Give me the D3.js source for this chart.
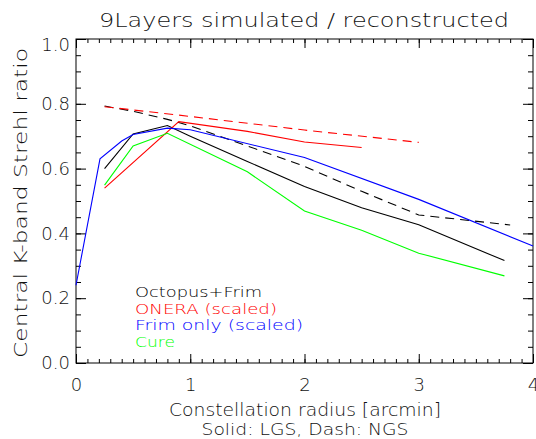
<!DOCTYPE html>
<html>
<head>
<meta charset="utf-8">
<script src="https://cdn.jsdelivr.net/npm/d3@7"></script>
<style>
  html, body { margin: 0; padding: 0; background: #fff; }
  svg { display: block; }
  text { font-family: "DejaVu Sans", sans-serif; font-weight: 200; fill: #111; }
</style>
</head>
<body>
<svg id="chart" width="536" height="439"></svg>
<script>
// Constellation radius values (arcmin) and Strehl ratios per reconstructor
const octopusX = [0.25, 0.5, 0.8, 1.0, 1.5, 2.0, 2.5, 3.0, 3.75];
const octopusLGS = [0.600, 0.707, 0.733, 0.700, 0.622, 0.545, 0.479, 0.427, 0.316];
const octopusNgsX = [0.25, 0.5, 0.8, 1.0, 1.5, 2.0, 2.5, 3.0, 3.8];
const octopusNGS = [0.793, 0.777, 0.752, 0.732, 0.670, 0.607, 0.530, 0.457, 0.426];

const oneraX = [0.25, 0.9, 1.5, 2.0, 2.5];
const oneraLGS = [0.540, 0.745, 0.715, 0.682, 0.665];
const oneraNgsX = [0.25, 1.0, 2.0, 3.0];
const oneraNGS = [0.791, 0.761, 0.719, 0.681];

const frimX = [0.0, 0.21, 0.4, 0.5, 0.8, 1.0, 2.0, 3.0, 4.0];
const frimLGS = [0.240, 0.630, 0.685, 0.705, 0.725, 0.720, 0.634, 0.505, 0.361];

const cureX = [0.25, 0.5, 0.8, 1.5, 2.0, 2.5, 3.0, 3.75];
const cureLGS = [0.549, 0.670, 0.709, 0.590, 0.469, 0.410, 0.339, 0.269];

const xMajorTicks = [0, 1, 2, 3, 4];
const xTickLabels = ["0", "1", "2", "3", "4"];
const yMajorTicks = [0, 0.2, 0.4, 0.6, 0.8, 1.0];
const yTickLabels = ["0.0", "0.2", "0.4", "0.6", "0.8", "1.0"];

const legendLabels = ["Octopus+Frim", "ONERA (scaled)", "Frim only (scaled)", "Cure"];
const legendColors = ["#000000", "#ff0000", "#0000ff", "#00ff00"];

const series = [
  { xs: octopusX, ys: octopusLGS, color: "#000000", dash: null },
  { xs: octopusNgsX, ys: octopusNGS, color: "#000000", dash: "9,6" },
  { xs: oneraX, ys: oneraLGS, color: "#ff0000", dash: null },
  { xs: oneraNgsX, ys: oneraNGS, color: "#ff0000", dash: "9,6" },
  { xs: frimX, ys: frimLGS, color: "#0000ff", dash: null },
  { xs: cureX, ys: cureLGS, color: "#00ff00", dash: null }
];

const svg = d3.select("#chart");
const plotLeft = 76, plotRight = 533, plotTop = 39, plotBottom = 363;
const x = d3.scaleLinear().domain([0, 4]).range([plotLeft, plotRight]);
const y = d3.scaleLinear().domain([0, 1]).range([plotBottom, plotTop]);

const xMinor = d3.range(0, 4.0001, 0.1).map(v => +v.toFixed(2));
const yMinor = d3.range(0, 1.0001, 0.05).map(v => +v.toFixed(2));

function styleAxis(g) {
  g.select(".domain").remove();
  g.selectAll(".tick line").attr("stroke", "#000").attr("stroke-width", 1);
  g.selectAll(".tick text").attr("fill", "#111")
    .style("font-family", "DejaVu Sans, sans-serif").style("font-weight", 200);
}

// Bottom axis: inward ticks, labelled majors
svg.append("g").attr("transform", `translate(0,${plotBottom})`)
  .call(d3.axisBottom(x).tickValues(xMinor).tickSize(-4).tickFormat(""))
  .call(styleAxis);
svg.append("g").attr("transform", `translate(0,${plotBottom})`)
  .call(d3.axisBottom(x).tickValues(xMajorTicks).tickSize(-9).tickPadding(15)
        .tickFormat((d, i) => xTickLabels[i]))
  .call(styleAxis)
  .selectAll("text").style("font-size", "18px");

// Top axis: ticks only
svg.append("g").attr("transform", `translate(0,${plotTop})`)
  .call(d3.axisTop(x).tickValues(xMinor).tickSize(-4).tickFormat(""))
  .call(styleAxis);
svg.append("g").attr("transform", `translate(0,${plotTop})`)
  .call(d3.axisTop(x).tickValues(xMajorTicks).tickSize(-9).tickFormat(""))
  .call(styleAxis);

// Left axis: inward ticks, labelled majors
svg.append("g").attr("transform", `translate(${plotLeft},0)`)
  .call(d3.axisLeft(y).tickValues(yMinor).tickSize(-5).tickFormat(""))
  .call(styleAxis);
const yAxisG = svg.append("g").attr("transform", `translate(${plotLeft},0)`)
  .call(d3.axisLeft(y).tickValues(yMajorTicks).tickSize(-10).tickPadding(6)
        .tickFormat((d, i) => yTickLabels[i]))
  .call(styleAxis);
yAxisG.selectAll("text").style("font-size", "18px");
// the top label sits just below the frame corner
yAxisG.selectAll(".tick").filter(d => d === 1.0).select("text").attr("dy", "0.65em");

// Right axis: ticks only
svg.append("g").attr("transform", `translate(${plotRight},0)`)
  .call(d3.axisRight(y).tickValues(yMinor).tickSize(-5).tickFormat(""))
  .call(styleAxis);
svg.append("g").attr("transform", `translate(${plotRight},0)`)
  .call(d3.axisRight(y).tickValues(yMajorTicks).tickSize(-10).tickFormat(""))
  .call(styleAxis);

// Plot frame
svg.append("rect")
  .attr("x", plotLeft).attr("y", plotTop)
  .attr("width", plotRight - plotLeft).attr("height", plotBottom - plotTop)
  .attr("fill", "none").attr("stroke", "#000").attr("stroke-width", 1);

// Data lines
const line = d3.line().x(d => x(d[0])).y(d => y(d[1]));
series.forEach(s => {
  svg.append("path")
    .datum(s.xs.map((v, i) => [v, s.ys[i]]))
    .attr("d", line)
    .attr("fill", "none")
    .attr("stroke", s.color)
    .attr("stroke-width", 1.1)
    .attr("stroke-dasharray", s.dash);
});

// Legend
const legendWidths = [127, 142, 168, 40];
legendLabels.forEach((t, i) => {
  svg.append("text")
    .attr("x", 135)
    .attr("y", 292 + i * 16.5)
    .attr("dy", "0.36em")
    .attr("textLength", legendWidths[i])
    .attr("lengthAdjust", "spacingAndGlyphs")
    .style("font-size", "14.5px")
    .style("fill", legendColors[i])
    .text(t);
});

// Title
svg.append("text")
  .attr("x", 304).attr("y", 20).attr("dy", "0.36em")
  .attr("text-anchor", "middle")
  .attr("textLength", 410).attr("lengthAdjust", "spacingAndGlyphs")
  .style("font-size", "19px")
  .text("9Layers simulated / reconstructed");

// Axis titles
svg.append("text")
  .attr("x", 305).attr("y", 410).attr("dy", "0.36em")
  .attr("text-anchor", "middle")
  .attr("textLength", 272).attr("lengthAdjust", "spacingAndGlyphs")
  .style("font-size", "17px")
  .text("Constellation radius [arcmin]");
svg.append("text")
  .attr("x", 305).attr("y", 429).attr("dy", "0.36em")
  .attr("text-anchor", "middle")
  .attr("textLength", 207).attr("lengthAdjust", "spacingAndGlyphs")
  .style("font-size", "16px")
  .text("Solid: LGS, Dash: NGS");
svg.append("text")
  .attr("transform", "translate(21,203) rotate(-90)")
  .attr("dy", "0.36em")
  .attr("text-anchor", "middle")
  .attr("textLength", 310).attr("lengthAdjust", "spacingAndGlyphs")
  .style("font-size", "17px")
  .text("Central K-band Strehl ratio");
</script>
</body>
</html>
